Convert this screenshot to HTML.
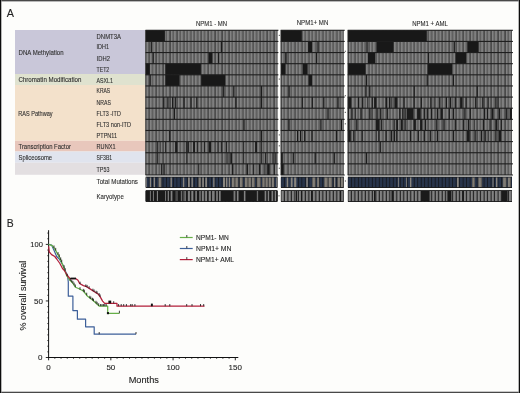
<!DOCTYPE html><html><head><meta charset="utf-8"><title>Figure</title>
<style>html,body{margin:0;padding:0;background:#fdfdfb;width:520px;height:393px;overflow:hidden;}svg{display:block;will-change:transform;}text{font-family:"Liberation Sans", sans-serif;stroke:currentColor;stroke-width:0.1px;paint-order:stroke;}</style></head><body>
<svg width="520" height="393" viewBox="0 0 520 393">
<defs><linearGradient id="cg" x1="0" x2="1" y1="0" y2="0"><stop offset="0" stop-color="#282828"/><stop offset="0.1" stop-color="#383838"/><stop offset="0.28" stop-color="#808080"/><stop offset="0.5" stop-color="#848484"/><stop offset="0.75" stop-color="#6a6a6a"/><stop offset="0.92" stop-color="#4a4a4a"/><stop offset="1" stop-color="#2c2c2c"/></linearGradient><linearGradient id="ng" x1="0" x2="1" y1="0" y2="0"><stop offset="0" stop-color="#161b25"/><stop offset="0.25" stop-color="#28344a"/><stop offset="0.7" stop-color="#29354b"/><stop offset="1" stop-color="#181e29"/></linearGradient><linearGradient id="tg" x1="0" x2="1" y1="0" y2="0"><stop offset="0" stop-color="#3c3b39"/><stop offset="0.3" stop-color="#85817a"/><stop offset="0.7" stop-color="#7a7670"/><stop offset="1" stop-color="#3c3b39"/></linearGradient></defs>
<rect x="0" y="0" width="520" height="393" fill="#fdfdfb"/>
<rect x="15" y="30.00" width="130.6" height="44.00" fill="#c9c7d9"/>
<rect x="15" y="74.00" width="130.6" height="11.00" fill="#dfe2cf"/>
<rect x="15" y="85.00" width="130.6" height="55.80" fill="#f3e1cb"/>
<rect x="15" y="140.80" width="130.6" height="10.70" fill="#e8c7bc"/>
<rect x="15" y="151.50" width="130.6" height="11.30" fill="#e0e4ee"/>
<rect x="15" y="162.80" width="130.6" height="12.00" fill="#e3dfe1"/>
<text x="18.60" y="54.80" font-size="6.50" fill="#2e2e2e" color="#2e2e2e" textLength="45.00" lengthAdjust="spacingAndGlyphs">DNA Methylation</text>
<text x="18.40" y="82.10" font-size="6.50" fill="#2e2e2e" color="#2e2e2e" textLength="63.00" lengthAdjust="spacingAndGlyphs">Chromatin Modification</text>
<text x="18.30" y="115.70" font-size="6.50" fill="#2e2e2e" color="#2e2e2e" textLength="34.20" lengthAdjust="spacingAndGlyphs">RAS Pathway</text>
<text x="18.50" y="149.00" font-size="6.50" fill="#2e2e2e" color="#2e2e2e" textLength="52.40" lengthAdjust="spacingAndGlyphs">Transcription Factor</text>
<text x="18.50" y="160.20" font-size="6.50" fill="#2e2e2e" color="#2e2e2e" textLength="33.60" lengthAdjust="spacingAndGlyphs">Spliceosome</text>
<text x="96.60" y="38.60" font-size="6.50" fill="#2e2e2e" color="#2e2e2e" textLength="24.30" lengthAdjust="spacingAndGlyphs">DNMT3A</text>
<text x="96.60" y="49.20" font-size="6.50" fill="#2e2e2e" color="#2e2e2e" textLength="12.30" lengthAdjust="spacingAndGlyphs">IDH1</text>
<text x="96.60" y="60.70" font-size="6.50" fill="#2e2e2e" color="#2e2e2e" textLength="13.30" lengthAdjust="spacingAndGlyphs">IDH2</text>
<text x="96.60" y="71.90" font-size="6.50" fill="#2e2e2e" color="#2e2e2e" textLength="12.60" lengthAdjust="spacingAndGlyphs">TET2</text>
<text x="96.60" y="82.80" font-size="6.50" fill="#2e2e2e" color="#2e2e2e" textLength="16.30" lengthAdjust="spacingAndGlyphs">ASXL1</text>
<text x="96.60" y="93.30" font-size="6.50" fill="#2e2e2e" color="#2e2e2e" textLength="13.60" lengthAdjust="spacingAndGlyphs">KRAS</text>
<text x="96.60" y="104.50" font-size="6.50" fill="#2e2e2e" color="#2e2e2e" textLength="14.30" lengthAdjust="spacingAndGlyphs">NRAS</text>
<text x="96.60" y="115.50" font-size="6.50" fill="#2e2e2e" color="#2e2e2e" textLength="24.20" lengthAdjust="spacingAndGlyphs">FLT3 -ITD</text>
<text x="96.60" y="126.90" font-size="6.50" fill="#2e2e2e" color="#2e2e2e" textLength="34.40" lengthAdjust="spacingAndGlyphs">FLT3 non-ITD</text>
<text x="96.60" y="138.00" font-size="6.50" fill="#2e2e2e" color="#2e2e2e" textLength="20.40" lengthAdjust="spacingAndGlyphs">PTPN11</text>
<text x="96.60" y="148.90" font-size="6.50" fill="#2e2e2e" color="#2e2e2e" textLength="18.90" lengthAdjust="spacingAndGlyphs">RUNX1</text>
<text x="96.60" y="160.00" font-size="6.50" fill="#2e2e2e" color="#2e2e2e" textLength="15.60" lengthAdjust="spacingAndGlyphs">SF3B1</text>
<text x="96.60" y="171.70" font-size="6.50" fill="#2e2e2e" color="#2e2e2e" textLength="12.80" lengthAdjust="spacingAndGlyphs">TP53</text>
<text x="96.60" y="184.40" font-size="6.50" fill="#2e2e2e" color="#2e2e2e" textLength="41.30" lengthAdjust="spacingAndGlyphs">Total Mutations</text>
<text x="96.60" y="198.70" font-size="6.50" fill="#2e2e2e" color="#2e2e2e" textLength="27.20" lengthAdjust="spacingAndGlyphs">Karyotype</text>
<text x="195.90" y="25.50" font-size="6.30" fill="#2e2e2e" color="#2e2e2e" textLength="31.20" lengthAdjust="spacingAndGlyphs">NPM1 - MN</text>
<text x="296.70" y="25.40" font-size="6.30" fill="#2e2e2e" color="#2e2e2e" textLength="31.60" lengthAdjust="spacingAndGlyphs">NPM1+ MN</text>
<text x="412.20" y="25.80" font-size="6.30" fill="#2e2e2e" color="#2e2e2e" textLength="35.70" lengthAdjust="spacingAndGlyphs">NPM1 + AML</text>
<text x="6.80" y="16.80" font-size="10.80" fill="#222" color="#222">A</text>
<text x="6.80" y="227.00" font-size="10.40" fill="#222" color="#222">B</text>
<rect x="145.70" y="30.30" width="3.47" height="144.69" fill="url(#cg)"/>
<rect x="149.17" y="30.30" width="3.47" height="144.69" fill="url(#cg)"/>
<rect x="152.64" y="30.30" width="3.47" height="144.69" fill="url(#cg)"/>
<rect x="156.11" y="30.30" width="3.47" height="144.69" fill="url(#cg)"/>
<rect x="159.57" y="30.30" width="3.47" height="144.69" fill="url(#cg)"/>
<rect x="163.04" y="30.30" width="3.47" height="144.69" fill="url(#cg)"/>
<rect x="166.51" y="30.30" width="3.47" height="144.69" fill="url(#cg)"/>
<rect x="169.98" y="30.30" width="3.47" height="144.69" fill="url(#cg)"/>
<rect x="173.45" y="30.30" width="3.47" height="144.69" fill="url(#cg)"/>
<rect x="176.92" y="30.30" width="3.47" height="144.69" fill="url(#cg)"/>
<rect x="180.38" y="30.30" width="3.47" height="144.69" fill="url(#cg)"/>
<rect x="183.85" y="30.30" width="3.47" height="144.69" fill="url(#cg)"/>
<rect x="187.32" y="30.30" width="3.47" height="144.69" fill="url(#cg)"/>
<rect x="190.79" y="30.30" width="3.47" height="144.69" fill="url(#cg)"/>
<rect x="194.26" y="30.30" width="3.47" height="144.69" fill="url(#cg)"/>
<rect x="197.73" y="30.30" width="3.47" height="144.69" fill="url(#cg)"/>
<rect x="201.19" y="30.30" width="3.47" height="144.69" fill="url(#cg)"/>
<rect x="204.66" y="30.30" width="3.47" height="144.69" fill="url(#cg)"/>
<rect x="208.13" y="30.30" width="3.47" height="144.69" fill="url(#cg)"/>
<rect x="211.60" y="30.30" width="3.47" height="144.69" fill="url(#cg)"/>
<rect x="215.07" y="30.30" width="3.47" height="144.69" fill="url(#cg)"/>
<rect x="218.54" y="30.30" width="3.47" height="144.69" fill="url(#cg)"/>
<rect x="222.01" y="30.30" width="3.47" height="144.69" fill="url(#cg)"/>
<rect x="225.47" y="30.30" width="3.47" height="144.69" fill="url(#cg)"/>
<rect x="228.94" y="30.30" width="3.47" height="144.69" fill="url(#cg)"/>
<rect x="232.41" y="30.30" width="3.47" height="144.69" fill="url(#cg)"/>
<rect x="235.88" y="30.30" width="3.47" height="144.69" fill="url(#cg)"/>
<rect x="239.35" y="30.30" width="3.47" height="144.69" fill="url(#cg)"/>
<rect x="242.82" y="30.30" width="3.47" height="144.69" fill="url(#cg)"/>
<rect x="246.28" y="30.30" width="3.47" height="144.69" fill="url(#cg)"/>
<rect x="249.75" y="30.30" width="3.47" height="144.69" fill="url(#cg)"/>
<rect x="253.22" y="30.30" width="3.47" height="144.69" fill="url(#cg)"/>
<rect x="256.69" y="30.30" width="3.47" height="144.69" fill="url(#cg)"/>
<rect x="260.16" y="30.30" width="3.47" height="144.69" fill="url(#cg)"/>
<rect x="263.63" y="30.30" width="3.47" height="144.69" fill="url(#cg)"/>
<rect x="267.09" y="30.30" width="3.47" height="144.69" fill="url(#cg)"/>
<rect x="270.56" y="30.30" width="3.47" height="144.69" fill="url(#cg)"/>
<rect x="274.03" y="30.30" width="3.47" height="144.69" fill="url(#cg)"/>
<rect x="280.90" y="30.30" width="3.49" height="144.69" fill="url(#cg)"/>
<rect x="284.39" y="30.30" width="3.49" height="144.69" fill="url(#cg)"/>
<rect x="287.89" y="30.30" width="3.49" height="144.69" fill="url(#cg)"/>
<rect x="291.38" y="30.30" width="3.49" height="144.69" fill="url(#cg)"/>
<rect x="294.88" y="30.30" width="3.49" height="144.69" fill="url(#cg)"/>
<rect x="298.37" y="30.30" width="3.49" height="144.69" fill="url(#cg)"/>
<rect x="301.87" y="30.30" width="3.49" height="144.69" fill="url(#cg)"/>
<rect x="305.36" y="30.30" width="3.49" height="144.69" fill="url(#cg)"/>
<rect x="308.86" y="30.30" width="3.49" height="144.69" fill="url(#cg)"/>
<rect x="312.35" y="30.30" width="3.49" height="144.69" fill="url(#cg)"/>
<rect x="315.84" y="30.30" width="3.49" height="144.69" fill="url(#cg)"/>
<rect x="319.34" y="30.30" width="3.49" height="144.69" fill="url(#cg)"/>
<rect x="322.83" y="30.30" width="3.49" height="144.69" fill="url(#cg)"/>
<rect x="326.33" y="30.30" width="3.49" height="144.69" fill="url(#cg)"/>
<rect x="329.82" y="30.30" width="3.49" height="144.69" fill="url(#cg)"/>
<rect x="333.32" y="30.30" width="3.49" height="144.69" fill="url(#cg)"/>
<rect x="336.81" y="30.30" width="3.49" height="144.69" fill="url(#cg)"/>
<rect x="340.31" y="30.30" width="3.49" height="144.69" fill="url(#cg)"/>
<rect x="347.90" y="30.30" width="3.49" height="144.69" fill="url(#cg)"/>
<rect x="351.39" y="30.30" width="3.49" height="144.69" fill="url(#cg)"/>
<rect x="354.88" y="30.30" width="3.49" height="144.69" fill="url(#cg)"/>
<rect x="358.37" y="30.30" width="3.49" height="144.69" fill="url(#cg)"/>
<rect x="361.87" y="30.30" width="3.49" height="144.69" fill="url(#cg)"/>
<rect x="365.36" y="30.30" width="3.49" height="144.69" fill="url(#cg)"/>
<rect x="368.85" y="30.30" width="3.49" height="144.69" fill="url(#cg)"/>
<rect x="372.34" y="30.30" width="3.49" height="144.69" fill="url(#cg)"/>
<rect x="375.83" y="30.30" width="3.49" height="144.69" fill="url(#cg)"/>
<rect x="379.32" y="30.30" width="3.49" height="144.69" fill="url(#cg)"/>
<rect x="382.81" y="30.30" width="3.49" height="144.69" fill="url(#cg)"/>
<rect x="386.31" y="30.30" width="3.49" height="144.69" fill="url(#cg)"/>
<rect x="389.80" y="30.30" width="3.49" height="144.69" fill="url(#cg)"/>
<rect x="393.29" y="30.30" width="3.49" height="144.69" fill="url(#cg)"/>
<rect x="396.78" y="30.30" width="3.49" height="144.69" fill="url(#cg)"/>
<rect x="400.27" y="30.30" width="3.49" height="144.69" fill="url(#cg)"/>
<rect x="403.76" y="30.30" width="3.49" height="144.69" fill="url(#cg)"/>
<rect x="407.26" y="30.30" width="3.49" height="144.69" fill="url(#cg)"/>
<rect x="410.75" y="30.30" width="3.49" height="144.69" fill="url(#cg)"/>
<rect x="414.24" y="30.30" width="3.49" height="144.69" fill="url(#cg)"/>
<rect x="417.73" y="30.30" width="3.49" height="144.69" fill="url(#cg)"/>
<rect x="421.22" y="30.30" width="3.49" height="144.69" fill="url(#cg)"/>
<rect x="424.71" y="30.30" width="3.49" height="144.69" fill="url(#cg)"/>
<rect x="428.20" y="30.30" width="3.49" height="144.69" fill="url(#cg)"/>
<rect x="431.70" y="30.30" width="3.49" height="144.69" fill="url(#cg)"/>
<rect x="435.19" y="30.30" width="3.49" height="144.69" fill="url(#cg)"/>
<rect x="438.68" y="30.30" width="3.49" height="144.69" fill="url(#cg)"/>
<rect x="442.17" y="30.30" width="3.49" height="144.69" fill="url(#cg)"/>
<rect x="445.66" y="30.30" width="3.49" height="144.69" fill="url(#cg)"/>
<rect x="449.15" y="30.30" width="3.49" height="144.69" fill="url(#cg)"/>
<rect x="452.64" y="30.30" width="3.49" height="144.69" fill="url(#cg)"/>
<rect x="456.14" y="30.30" width="3.49" height="144.69" fill="url(#cg)"/>
<rect x="459.63" y="30.30" width="3.49" height="144.69" fill="url(#cg)"/>
<rect x="463.12" y="30.30" width="3.49" height="144.69" fill="url(#cg)"/>
<rect x="466.61" y="30.30" width="3.49" height="144.69" fill="url(#cg)"/>
<rect x="470.10" y="30.30" width="3.49" height="144.69" fill="url(#cg)"/>
<rect x="473.59" y="30.30" width="3.49" height="144.69" fill="url(#cg)"/>
<rect x="477.09" y="30.30" width="3.49" height="144.69" fill="url(#cg)"/>
<rect x="480.58" y="30.30" width="3.49" height="144.69" fill="url(#cg)"/>
<rect x="484.07" y="30.30" width="3.49" height="144.69" fill="url(#cg)"/>
<rect x="487.56" y="30.30" width="3.49" height="144.69" fill="url(#cg)"/>
<rect x="491.05" y="30.30" width="3.49" height="144.69" fill="url(#cg)"/>
<rect x="494.54" y="30.30" width="3.49" height="144.69" fill="url(#cg)"/>
<rect x="498.03" y="30.30" width="3.49" height="144.69" fill="url(#cg)"/>
<rect x="501.53" y="30.30" width="3.49" height="144.69" fill="url(#cg)"/>
<rect x="505.02" y="30.30" width="3.49" height="144.69" fill="url(#cg)"/>
<rect x="508.51" y="30.30" width="3.49" height="144.69" fill="url(#cg)"/>
<rect x="145.70" y="30.30" width="19.20" height="11.13" fill="#181818"/>
<rect x="145.70" y="63.69" width="4.10" height="11.13" fill="#181818"/>
<rect x="165.30" y="63.69" width="35.60" height="11.13" fill="#181818"/>
<rect x="165.30" y="74.82" width="14.30" height="11.13" fill="#181818"/>
<rect x="201.20" y="74.82" width="24.10" height="11.13" fill="#181818"/>
<rect x="208.50" y="52.56" width="4.00" height="11.13" fill="#181818"/>
<rect x="280.90" y="30.30" width="20.90" height="11.13" fill="#181818"/>
<rect x="281.00" y="63.69" width="4.60" height="11.13" fill="#181818"/>
<rect x="302.80" y="63.69" width="4.80" height="11.13" fill="#181818"/>
<rect x="308.50" y="74.82" width="3.50" height="11.13" fill="#181818"/>
<rect x="308.10" y="41.43" width="3.90" height="11.13" fill="#181818"/>
<rect x="285.20" y="52.56" width="1.40" height="11.13" fill="#181818"/>
<rect x="301.80" y="97.08" width="1.00" height="11.13" fill="#181818"/>
<rect x="341.00" y="119.34" width="1.00" height="11.13" fill="#181818"/>
<rect x="297.00" y="130.47" width="1.00" height="11.13" fill="#181818"/>
<rect x="300.00" y="130.47" width="1.00" height="11.13" fill="#181818"/>
<rect x="281.00" y="152.73" width="1.80" height="11.13" fill="#181818"/>
<rect x="281.00" y="163.86" width="2.70" height="11.13" fill="#181818"/>
<rect x="347.90" y="30.30" width="78.90" height="11.13" fill="#181818"/>
<rect x="376.50" y="41.43" width="17.10" height="11.13" fill="#181818"/>
<rect x="467.30" y="41.43" width="11.40" height="11.13" fill="#181818"/>
<rect x="367.90" y="52.56" width="7.20" height="11.13" fill="#181818"/>
<rect x="455.50" y="52.56" width="10.80" height="11.13" fill="#181818"/>
<rect x="347.90" y="63.69" width="17.70" height="11.13" fill="#181818"/>
<rect x="427.50" y="63.69" width="24.80" height="11.13" fill="#181818"/>
<rect x="347.80" y="97.08" width="3.60" height="11.13" fill="#1c1c1c"/>
<rect x="358.00" y="97.08" width="1.20" height="11.13" fill="#1c1c1c"/>
<rect x="362.10" y="97.08" width="1.20" height="11.13" fill="#1c1c1c"/>
<rect x="367.00" y="97.08" width="0.60" height="11.13" fill="#1c1c1c"/>
<rect x="371.70" y="97.08" width="1.20" height="11.13" fill="#1c1c1c"/>
<rect x="374.10" y="97.08" width="2.40" height="11.13" fill="#1c1c1c"/>
<rect x="385.50" y="97.08" width="1.80" height="11.13" fill="#1c1c1c"/>
<rect x="389.00" y="97.08" width="1.20" height="11.13" fill="#1c1c1c"/>
<rect x="391.40" y="97.08" width="0.60" height="11.13" fill="#1c1c1c"/>
<rect x="394.40" y="97.08" width="3.00" height="11.13" fill="#1c1c1c"/>
<rect x="403.40" y="97.08" width="1.20" height="11.13" fill="#1c1c1c"/>
<rect x="413.50" y="97.08" width="1.20" height="11.13" fill="#1c1c1c"/>
<rect x="420.70" y="97.08" width="1.20" height="11.13" fill="#1c1c1c"/>
<rect x="430.30" y="97.08" width="1.20" height="11.13" fill="#1c1c1c"/>
<rect x="433.80" y="97.08" width="0.60" height="11.13" fill="#1c1c1c"/>
<rect x="439.20" y="97.08" width="1.20" height="11.13" fill="#1c1c1c"/>
<rect x="445.80" y="97.08" width="1.20" height="11.13" fill="#1c1c1c"/>
<rect x="449.90" y="97.08" width="1.20" height="11.13" fill="#1c1c1c"/>
<rect x="454.70" y="97.08" width="1.20" height="11.13" fill="#1c1c1c"/>
<rect x="460.10" y="97.08" width="2.40" height="11.13" fill="#1c1c1c"/>
<rect x="465.50" y="97.08" width="1.20" height="11.13" fill="#1c1c1c"/>
<rect x="475.10" y="97.08" width="1.20" height="11.13" fill="#1c1c1c"/>
<rect x="482.20" y="97.08" width="1.20" height="11.13" fill="#1c1c1c"/>
<rect x="487.60" y="97.08" width="1.10" height="11.13" fill="#1c1c1c"/>
<rect x="495.30" y="97.08" width="1.20" height="11.13" fill="#1c1c1c"/>
<rect x="497.70" y="97.08" width="0.60" height="11.13" fill="#1c1c1c"/>
<rect x="347.80" y="108.21" width="1.20" height="11.13" fill="#1c1c1c"/>
<rect x="351.40" y="108.21" width="1.20" height="11.13" fill="#1c1c1c"/>
<rect x="355.00" y="108.21" width="0.60" height="11.13" fill="#1c1c1c"/>
<rect x="360.40" y="108.21" width="1.20" height="11.13" fill="#1c1c1c"/>
<rect x="369.30" y="108.21" width="1.20" height="11.13" fill="#1c1c1c"/>
<rect x="371.70" y="108.21" width="0.60" height="11.13" fill="#1c1c1c"/>
<rect x="376.50" y="108.21" width="1.20" height="11.13" fill="#1c1c1c"/>
<rect x="380.10" y="108.21" width="1.20" height="11.13" fill="#1c1c1c"/>
<rect x="386.70" y="108.21" width="1.20" height="11.13" fill="#1c1c1c"/>
<rect x="399.20" y="108.21" width="1.20" height="11.13" fill="#1c1c1c"/>
<rect x="402.20" y="108.21" width="1.20" height="11.13" fill="#1c1c1c"/>
<rect x="404.60" y="108.21" width="1.10" height="11.13" fill="#1c1c1c"/>
<rect x="406.90" y="108.21" width="6.60" height="11.13" fill="#1c1c1c"/>
<rect x="417.10" y="108.21" width="3.60" height="11.13" fill="#1c1c1c"/>
<rect x="423.70" y="108.21" width="1.20" height="11.13" fill="#1c1c1c"/>
<rect x="426.70" y="108.21" width="1.20" height="11.13" fill="#1c1c1c"/>
<rect x="430.90" y="108.21" width="1.20" height="11.13" fill="#1c1c1c"/>
<rect x="436.80" y="108.21" width="1.20" height="11.13" fill="#1c1c1c"/>
<rect x="440.40" y="108.21" width="2.40" height="11.13" fill="#1c1c1c"/>
<rect x="448.70" y="108.21" width="1.20" height="11.13" fill="#1c1c1c"/>
<rect x="452.90" y="108.21" width="1.20" height="11.13" fill="#1c1c1c"/>
<rect x="464.30" y="108.21" width="1.20" height="11.13" fill="#1c1c1c"/>
<rect x="469.70" y="108.21" width="1.20" height="11.13" fill="#1c1c1c"/>
<rect x="484.00" y="108.21" width="1.20" height="11.13" fill="#1c1c1c"/>
<rect x="487.00" y="108.21" width="1.10" height="11.13" fill="#1c1c1c"/>
<rect x="491.70" y="108.21" width="1.80" height="11.13" fill="#1c1c1c"/>
<rect x="498.90" y="108.21" width="1.20" height="11.13" fill="#1c1c1c"/>
<rect x="506.10" y="108.21" width="1.20" height="11.13" fill="#1c1c1c"/>
<rect x="509.70" y="108.21" width="2.30" height="11.13" fill="#1c1c1c"/>
<rect x="347.80" y="119.34" width="1.80" height="11.13" fill="#1c1c1c"/>
<rect x="356.20" y="119.34" width="1.20" height="11.13" fill="#1c1c1c"/>
<rect x="375.90" y="119.34" width="3.60" height="11.13" fill="#1c1c1c"/>
<rect x="380.70" y="119.34" width="1.20" height="11.13" fill="#1c1c1c"/>
<rect x="393.80" y="119.34" width="0.90" height="11.13" fill="#1c1c1c"/>
<rect x="396.20" y="119.34" width="1.80" height="11.13" fill="#1c1c1c"/>
<rect x="401.00" y="119.34" width="1.80" height="11.13" fill="#1c1c1c"/>
<rect x="404.60" y="119.34" width="1.10" height="11.13" fill="#1c1c1c"/>
<rect x="413.50" y="119.34" width="2.40" height="11.13" fill="#1c1c1c"/>
<rect x="420.10" y="119.34" width="2.40" height="11.13" fill="#1c1c1c"/>
<rect x="424.90" y="119.34" width="1.20" height="11.13" fill="#1c1c1c"/>
<rect x="436.20" y="119.34" width="1.20" height="11.13" fill="#1c1c1c"/>
<rect x="443.40" y="119.34" width="1.20" height="11.13" fill="#1c1c1c"/>
<rect x="454.70" y="119.34" width="1.20" height="11.13" fill="#1c1c1c"/>
<rect x="463.10" y="119.34" width="1.20" height="11.13" fill="#1c1c1c"/>
<rect x="467.90" y="119.34" width="1.20" height="11.13" fill="#1c1c1c"/>
<rect x="474.40" y="119.34" width="0.60" height="11.13" fill="#1c1c1c"/>
<rect x="482.80" y="119.34" width="1.20" height="11.13" fill="#1c1c1c"/>
<rect x="489.50" y="119.34" width="1.00" height="11.13" fill="#1c1c1c"/>
<rect x="495.30" y="119.34" width="1.80" height="11.13" fill="#1c1c1c"/>
<rect x="500.70" y="119.34" width="1.20" height="11.13" fill="#1c1c1c"/>
<rect x="347.80" y="130.47" width="3.00" height="11.13" fill="#1c1c1c"/>
<rect x="353.20" y="130.47" width="1.20" height="11.13" fill="#1c1c1c"/>
<rect x="361.60" y="130.47" width="1.10" height="11.13" fill="#1c1c1c"/>
<rect x="375.90" y="130.47" width="0.60" height="11.13" fill="#1c1c1c"/>
<rect x="378.30" y="130.47" width="1.20" height="11.13" fill="#1c1c1c"/>
<rect x="385.50" y="130.47" width="1.20" height="11.13" fill="#1c1c1c"/>
<rect x="390.80" y="130.47" width="1.20" height="11.13" fill="#1c1c1c"/>
<rect x="393.80" y="130.47" width="1.20" height="11.13" fill="#1c1c1c"/>
<rect x="396.20" y="130.47" width="1.20" height="11.13" fill="#1c1c1c"/>
<rect x="409.90" y="130.47" width="1.20" height="11.13" fill="#1c1c1c"/>
<rect x="417.70" y="130.47" width="1.20" height="11.13" fill="#1c1c1c"/>
<rect x="423.70" y="130.47" width="1.20" height="11.13" fill="#1c1c1c"/>
<rect x="429.70" y="130.47" width="1.20" height="11.13" fill="#1c1c1c"/>
<rect x="436.80" y="130.47" width="1.20" height="11.13" fill="#1c1c1c"/>
<rect x="452.90" y="130.47" width="1.20" height="11.13" fill="#1c1c1c"/>
<rect x="466.70" y="130.47" width="3.00" height="11.13" fill="#1c1c1c"/>
<rect x="474.50" y="130.47" width="1.20" height="11.13" fill="#1c1c1c"/>
<rect x="481.00" y="130.47" width="1.20" height="11.13" fill="#1c1c1c"/>
<rect x="484.60" y="130.47" width="1.20" height="11.13" fill="#1c1c1c"/>
<rect x="488.10" y="130.47" width="0.60" height="11.13" fill="#1c1c1c"/>
<rect x="495.30" y="130.47" width="1.20" height="11.13" fill="#1c1c1c"/>
<rect x="498.90" y="130.47" width="2.40" height="11.13" fill="#1c1c1c"/>
<rect x="157.20" y="141.60" width="0.90" height="11.13" fill="#1c1c1c"/>
<rect x="160.50" y="141.60" width="0.50" height="11.13" fill="#1c1c1c"/>
<rect x="165.20" y="141.60" width="0.90" height="11.13" fill="#1c1c1c"/>
<rect x="175.10" y="141.60" width="2.30" height="11.13" fill="#1c1c1c"/>
<rect x="185.90" y="141.60" width="0.90" height="11.13" fill="#1c1c1c"/>
<rect x="187.30" y="141.60" width="1.60" height="11.13" fill="#1c1c1c"/>
<rect x="193.10" y="141.60" width="1.90" height="11.13" fill="#1c1c1c"/>
<rect x="196.90" y="141.60" width="0.90" height="11.13" fill="#1c1c1c"/>
<rect x="201.60" y="141.60" width="0.50" height="11.13" fill="#1c1c1c"/>
<rect x="204.00" y="141.60" width="0.90" height="11.13" fill="#1c1c1c"/>
<rect x="208.70" y="141.60" width="2.30" height="11.13" fill="#1c1c1c"/>
<rect x="217.60" y="141.60" width="0.90" height="11.13" fill="#1c1c1c"/>
<rect x="220.90" y="141.60" width="0.90" height="11.13" fill="#1c1c1c"/>
<rect x="226.10" y="141.60" width="0.90" height="11.13" fill="#1c1c1c"/>
<rect x="243.30" y="141.60" width="0.80" height="11.13" fill="#1c1c1c"/>
<rect x="255.10" y="141.60" width="1.90" height="11.13" fill="#1c1c1c"/>
<rect x="261.20" y="141.60" width="0.80" height="11.13" fill="#1c1c1c"/>
<rect x="157.20" y="152.73" width="0.90" height="11.13" fill="#1c1c1c"/>
<rect x="186.40" y="152.73" width="0.90" height="11.13" fill="#1c1c1c"/>
<rect x="226.50" y="152.73" width="1.00" height="11.13" fill="#1c1c1c"/>
<rect x="230.30" y="152.73" width="1.70" height="11.13" fill="#1c1c1c"/>
<rect x="243.30" y="152.73" width="0.80" height="11.13" fill="#1c1c1c"/>
<rect x="261.20" y="152.73" width="0.90" height="11.13" fill="#1c1c1c"/>
<rect x="265.00" y="152.73" width="0.90" height="11.13" fill="#1c1c1c"/>
<rect x="272.50" y="152.73" width="0.90" height="11.13" fill="#1c1c1c"/>
<rect x="275.30" y="152.73" width="1.00" height="11.13" fill="#1c1c1c"/>
<rect x="161.00" y="163.86" width="0.90" height="11.13" fill="#1c1c1c"/>
<rect x="163.80" y="163.86" width="0.90" height="11.13" fill="#1c1c1c"/>
<rect x="198.30" y="163.86" width="0.90" height="11.13" fill="#1c1c1c"/>
<rect x="232.00" y="163.86" width="1.40" height="11.13" fill="#1c1c1c"/>
<rect x="246.60" y="163.86" width="1.40" height="11.13" fill="#1c1c1c"/>
<rect x="253.20" y="163.86" width="0.90" height="11.13" fill="#1c1c1c"/>
<rect x="258.80" y="163.86" width="1.40" height="11.13" fill="#1c1c1c"/>
<rect x="264.50" y="163.86" width="0.90" height="11.13" fill="#1c1c1c"/>
<rect x="267.30" y="163.86" width="2.40" height="11.13" fill="#1c1c1c"/>
<rect x="273.90" y="163.86" width="0.90" height="11.13" fill="#1c1c1c"/>
<rect x="150.70" y="41.43" width="1.20" height="11.13" fill="#1c1c1c"/>
<rect x="220.80" y="41.43" width="1.20" height="11.13" fill="#1c1c1c"/>
<rect x="317.40" y="41.43" width="1.20" height="11.13" fill="#1c1c1c"/>
<rect x="366.40" y="41.43" width="1.20" height="11.13" fill="#1c1c1c"/>
<rect x="453.70" y="41.43" width="1.20" height="11.13" fill="#1c1c1c"/>
<rect x="152.60" y="52.56" width="1.20" height="11.13" fill="#1c1c1c"/>
<rect x="218.00" y="52.56" width="1.20" height="11.13" fill="#1c1c1c"/>
<rect x="316.00" y="52.56" width="1.20" height="11.13" fill="#1c1c1c"/>
<rect x="427.90" y="52.56" width="1.20" height="11.13" fill="#1c1c1c"/>
<rect x="149.60" y="74.82" width="1.20" height="11.13" fill="#1c1c1c"/>
<rect x="365.90" y="74.82" width="1.20" height="11.13" fill="#1c1c1c"/>
<rect x="426.60" y="74.82" width="1.20" height="11.13" fill="#1c1c1c"/>
<rect x="452.80" y="74.82" width="1.20" height="11.13" fill="#1c1c1c"/>
<rect x="223.10" y="85.95" width="1.20" height="11.13" fill="#1c1c1c"/>
<rect x="233.20" y="85.95" width="1.20" height="11.13" fill="#1c1c1c"/>
<rect x="260.90" y="85.95" width="1.20" height="11.13" fill="#1c1c1c"/>
<rect x="288.50" y="85.95" width="1.20" height="11.13" fill="#1c1c1c"/>
<rect x="365.40" y="85.95" width="1.20" height="11.13" fill="#1c1c1c"/>
<rect x="369.20" y="85.95" width="1.20" height="11.13" fill="#1c1c1c"/>
<rect x="413.60" y="85.95" width="1.20" height="11.13" fill="#1c1c1c"/>
<rect x="476.60" y="85.95" width="1.20" height="11.13" fill="#1c1c1c"/>
<rect x="163.20" y="97.08" width="1.20" height="11.13" fill="#1c1c1c"/>
<rect x="167.30" y="97.08" width="1.20" height="11.13" fill="#1c1c1c"/>
<rect x="172.00" y="97.08" width="1.20" height="11.13" fill="#1c1c1c"/>
<rect x="174.70" y="97.08" width="1.20" height="11.13" fill="#1c1c1c"/>
<rect x="183.40" y="97.08" width="1.20" height="11.13" fill="#1c1c1c"/>
<rect x="190.40" y="97.08" width="1.20" height="11.13" fill="#1c1c1c"/>
<rect x="196.20" y="97.08" width="1.20" height="11.13" fill="#1c1c1c"/>
<rect x="235.30" y="97.08" width="1.20" height="11.13" fill="#1c1c1c"/>
<rect x="260.90" y="97.08" width="1.20" height="11.13" fill="#1c1c1c"/>
<rect x="311.70" y="97.08" width="1.20" height="11.13" fill="#1c1c1c"/>
<rect x="323.20" y="97.08" width="1.20" height="11.13" fill="#1c1c1c"/>
<rect x="337.40" y="97.08" width="1.20" height="11.13" fill="#1c1c1c"/>
<rect x="173.80" y="108.21" width="1.20" height="11.13" fill="#1c1c1c"/>
<rect x="327.40" y="108.21" width="1.20" height="11.13" fill="#1c1c1c"/>
<rect x="243.40" y="119.34" width="1.20" height="11.13" fill="#1c1c1c"/>
<rect x="288.40" y="119.34" width="1.20" height="11.13" fill="#1c1c1c"/>
<rect x="320.30" y="119.34" width="1.20" height="11.13" fill="#1c1c1c"/>
<rect x="169.10" y="130.47" width="1.20" height="11.13" fill="#1c1c1c"/>
<rect x="260.90" y="130.47" width="1.20" height="11.13" fill="#1c1c1c"/>
<rect x="304.10" y="130.47" width="1.20" height="11.13" fill="#1c1c1c"/>
<rect x="311.40" y="130.47" width="1.20" height="11.13" fill="#1c1c1c"/>
<rect x="335.90" y="130.47" width="1.20" height="11.13" fill="#1c1c1c"/>
<rect x="379.70" y="141.60" width="1.20" height="11.13" fill="#1c1c1c"/>
<rect x="292.70" y="152.73" width="1.20" height="11.13" fill="#1c1c1c"/>
<rect x="314.60" y="152.73" width="1.20" height="11.13" fill="#1c1c1c"/>
<rect x="333.70" y="152.73" width="1.20" height="11.13" fill="#1c1c1c"/>
<rect x="365.90" y="152.73" width="1.20" height="11.13" fill="#1c1c1c"/>
<rect x="145.50" y="29.75" width="132.90" height="1.10" fill="#1e1e1e"/>
<rect x="145.50" y="40.88" width="132.90" height="1.10" fill="#1e1e1e"/>
<rect x="145.50" y="52.01" width="132.90" height="1.10" fill="#1e1e1e"/>
<rect x="145.50" y="63.14" width="132.90" height="1.10" fill="#1e1e1e"/>
<rect x="145.50" y="74.27" width="132.90" height="1.10" fill="#1e1e1e"/>
<rect x="145.50" y="85.40" width="132.90" height="1.10" fill="#1e1e1e"/>
<rect x="145.50" y="96.53" width="132.90" height="1.10" fill="#1e1e1e"/>
<rect x="145.50" y="107.66" width="132.90" height="1.10" fill="#1e1e1e"/>
<rect x="145.50" y="118.79" width="132.90" height="1.10" fill="#1e1e1e"/>
<rect x="145.50" y="129.92" width="132.90" height="1.10" fill="#1e1e1e"/>
<rect x="145.50" y="141.05" width="132.90" height="1.10" fill="#1e1e1e"/>
<rect x="145.50" y="152.18" width="132.90" height="1.10" fill="#1e1e1e"/>
<rect x="145.50" y="163.31" width="132.90" height="1.10" fill="#1e1e1e"/>
<rect x="145.50" y="174.44" width="132.90" height="1.10" fill="#1e1e1e"/>
<rect x="145.40" y="30.30" width="0.70" height="144.69" fill="#2a2a2a"/>
<rect x="280.70" y="29.75" width="64.00" height="1.10" fill="#1e1e1e"/>
<rect x="280.70" y="40.88" width="64.00" height="1.10" fill="#1e1e1e"/>
<rect x="280.70" y="52.01" width="64.00" height="1.10" fill="#1e1e1e"/>
<rect x="280.70" y="63.14" width="64.00" height="1.10" fill="#1e1e1e"/>
<rect x="280.70" y="74.27" width="64.00" height="1.10" fill="#1e1e1e"/>
<rect x="280.70" y="85.40" width="64.00" height="1.10" fill="#1e1e1e"/>
<rect x="280.70" y="96.53" width="64.00" height="1.10" fill="#1e1e1e"/>
<rect x="280.70" y="107.66" width="64.00" height="1.10" fill="#1e1e1e"/>
<rect x="280.70" y="118.79" width="64.00" height="1.10" fill="#1e1e1e"/>
<rect x="280.70" y="129.92" width="64.00" height="1.10" fill="#1e1e1e"/>
<rect x="280.70" y="141.05" width="64.00" height="1.10" fill="#1e1e1e"/>
<rect x="280.70" y="152.18" width="64.00" height="1.10" fill="#1e1e1e"/>
<rect x="280.70" y="163.31" width="64.00" height="1.10" fill="#1e1e1e"/>
<rect x="280.70" y="174.44" width="64.00" height="1.10" fill="#1e1e1e"/>
<rect x="280.60" y="30.30" width="0.70" height="144.69" fill="#2a2a2a"/>
<rect x="347.70" y="29.75" width="165.20" height="1.10" fill="#1e1e1e"/>
<rect x="347.70" y="40.88" width="165.20" height="1.10" fill="#1e1e1e"/>
<rect x="347.70" y="52.01" width="165.20" height="1.10" fill="#1e1e1e"/>
<rect x="347.70" y="63.14" width="165.20" height="1.10" fill="#1e1e1e"/>
<rect x="347.70" y="74.27" width="165.20" height="1.10" fill="#1e1e1e"/>
<rect x="347.70" y="85.40" width="165.20" height="1.10" fill="#1e1e1e"/>
<rect x="347.70" y="96.53" width="165.20" height="1.10" fill="#1e1e1e"/>
<rect x="347.70" y="107.66" width="165.20" height="1.10" fill="#1e1e1e"/>
<rect x="347.70" y="118.79" width="165.20" height="1.10" fill="#1e1e1e"/>
<rect x="347.70" y="129.92" width="165.20" height="1.10" fill="#1e1e1e"/>
<rect x="347.70" y="141.05" width="165.20" height="1.10" fill="#1e1e1e"/>
<rect x="347.70" y="152.18" width="165.20" height="1.10" fill="#1e1e1e"/>
<rect x="347.70" y="163.31" width="165.20" height="1.10" fill="#1e1e1e"/>
<rect x="347.70" y="174.44" width="165.20" height="1.10" fill="#1e1e1e"/>
<rect x="347.60" y="30.30" width="0.70" height="144.69" fill="#2a2a2a"/>
<rect x="145.70" y="176.60" width="131.80" height="11.40" fill="#1a1a1a"/>
<rect x="145.70" y="177.50" width="3.47" height="9.60" fill="url(#ng)"/>
<rect x="149.17" y="177.50" width="3.47" height="9.60" fill="url(#ng)"/>
<rect x="152.64" y="177.50" width="3.47" height="9.60" fill="url(#ng)"/>
<rect x="156.11" y="177.50" width="3.47" height="9.60" fill="url(#ng)"/>
<rect x="159.57" y="177.50" width="3.47" height="9.60" fill="url(#ng)"/>
<rect x="163.04" y="177.50" width="3.47" height="9.60" fill="url(#ng)"/>
<rect x="166.51" y="177.50" width="3.47" height="9.60" fill="url(#ng)"/>
<rect x="169.98" y="177.50" width="3.47" height="9.60" fill="url(#ng)"/>
<rect x="173.45" y="177.50" width="3.47" height="9.60" fill="url(#ng)"/>
<rect x="176.92" y="177.50" width="3.47" height="9.60" fill="url(#ng)"/>
<rect x="180.38" y="177.50" width="3.47" height="9.60" fill="url(#ng)"/>
<rect x="183.85" y="177.50" width="3.47" height="9.60" fill="url(#ng)"/>
<rect x="187.32" y="177.50" width="3.47" height="9.60" fill="url(#ng)"/>
<rect x="190.79" y="177.50" width="3.47" height="9.60" fill="url(#ng)"/>
<rect x="194.26" y="177.50" width="3.47" height="9.60" fill="url(#ng)"/>
<rect x="197.73" y="177.50" width="3.47" height="9.60" fill="url(#ng)"/>
<rect x="201.19" y="177.50" width="3.47" height="9.60" fill="url(#ng)"/>
<rect x="204.66" y="177.50" width="3.47" height="9.60" fill="url(#ng)"/>
<rect x="208.13" y="177.50" width="3.47" height="9.60" fill="url(#ng)"/>
<rect x="211.60" y="177.50" width="3.47" height="9.60" fill="url(#ng)"/>
<rect x="215.07" y="177.50" width="3.47" height="9.60" fill="url(#ng)"/>
<rect x="218.54" y="177.50" width="3.47" height="9.60" fill="url(#ng)"/>
<rect x="222.01" y="177.50" width="3.47" height="9.60" fill="url(#ng)"/>
<rect x="225.47" y="177.50" width="3.47" height="9.60" fill="url(#ng)"/>
<rect x="228.94" y="177.50" width="3.47" height="9.60" fill="url(#ng)"/>
<rect x="232.41" y="177.50" width="3.47" height="9.60" fill="url(#ng)"/>
<rect x="235.88" y="177.50" width="3.47" height="9.60" fill="url(#ng)"/>
<rect x="239.35" y="177.50" width="3.47" height="9.60" fill="url(#ng)"/>
<rect x="242.82" y="177.50" width="3.47" height="9.60" fill="url(#ng)"/>
<rect x="246.28" y="177.50" width="3.47" height="9.60" fill="url(#ng)"/>
<rect x="249.75" y="177.50" width="3.47" height="9.60" fill="url(#ng)"/>
<rect x="253.22" y="177.50" width="3.47" height="9.60" fill="url(#ng)"/>
<rect x="256.69" y="177.50" width="3.47" height="9.60" fill="url(#ng)"/>
<rect x="260.16" y="177.50" width="3.47" height="9.60" fill="url(#ng)"/>
<rect x="263.63" y="177.50" width="3.47" height="9.60" fill="url(#ng)"/>
<rect x="267.09" y="177.50" width="3.47" height="9.60" fill="url(#ng)"/>
<rect x="270.56" y="177.50" width="3.47" height="9.60" fill="url(#ng)"/>
<rect x="274.03" y="177.50" width="3.47" height="9.60" fill="url(#ng)"/>
<rect x="145.70" y="190.10" width="131.80" height="11.90" fill="#1a1a1a"/>
<rect x="145.70" y="191.00" width="3.47" height="10.10" fill="url(#cg)"/>
<rect x="149.17" y="191.00" width="3.47" height="10.10" fill="url(#cg)"/>
<rect x="152.64" y="191.00" width="3.47" height="10.10" fill="url(#cg)"/>
<rect x="156.11" y="191.00" width="3.47" height="10.10" fill="url(#cg)"/>
<rect x="159.57" y="191.00" width="3.47" height="10.10" fill="url(#cg)"/>
<rect x="163.04" y="191.00" width="3.47" height="10.10" fill="url(#cg)"/>
<rect x="166.51" y="191.00" width="3.47" height="10.10" fill="url(#cg)"/>
<rect x="169.98" y="191.00" width="3.47" height="10.10" fill="url(#cg)"/>
<rect x="173.45" y="191.00" width="3.47" height="10.10" fill="url(#cg)"/>
<rect x="176.92" y="191.00" width="3.47" height="10.10" fill="url(#cg)"/>
<rect x="180.38" y="191.00" width="3.47" height="10.10" fill="url(#cg)"/>
<rect x="183.85" y="191.00" width="3.47" height="10.10" fill="url(#cg)"/>
<rect x="187.32" y="191.00" width="3.47" height="10.10" fill="url(#cg)"/>
<rect x="190.79" y="191.00" width="3.47" height="10.10" fill="url(#cg)"/>
<rect x="194.26" y="191.00" width="3.47" height="10.10" fill="url(#cg)"/>
<rect x="197.73" y="191.00" width="3.47" height="10.10" fill="url(#cg)"/>
<rect x="201.19" y="191.00" width="3.47" height="10.10" fill="url(#cg)"/>
<rect x="204.66" y="191.00" width="3.47" height="10.10" fill="url(#cg)"/>
<rect x="208.13" y="191.00" width="3.47" height="10.10" fill="url(#cg)"/>
<rect x="211.60" y="191.00" width="3.47" height="10.10" fill="url(#cg)"/>
<rect x="215.07" y="191.00" width="3.47" height="10.10" fill="url(#cg)"/>
<rect x="218.54" y="191.00" width="3.47" height="10.10" fill="url(#cg)"/>
<rect x="222.01" y="191.00" width="3.47" height="10.10" fill="url(#cg)"/>
<rect x="225.47" y="191.00" width="3.47" height="10.10" fill="url(#cg)"/>
<rect x="228.94" y="191.00" width="3.47" height="10.10" fill="url(#cg)"/>
<rect x="232.41" y="191.00" width="3.47" height="10.10" fill="url(#cg)"/>
<rect x="235.88" y="191.00" width="3.47" height="10.10" fill="url(#cg)"/>
<rect x="239.35" y="191.00" width="3.47" height="10.10" fill="url(#cg)"/>
<rect x="242.82" y="191.00" width="3.47" height="10.10" fill="url(#cg)"/>
<rect x="246.28" y="191.00" width="3.47" height="10.10" fill="url(#cg)"/>
<rect x="249.75" y="191.00" width="3.47" height="10.10" fill="url(#cg)"/>
<rect x="253.22" y="191.00" width="3.47" height="10.10" fill="url(#cg)"/>
<rect x="256.69" y="191.00" width="3.47" height="10.10" fill="url(#cg)"/>
<rect x="260.16" y="191.00" width="3.47" height="10.10" fill="url(#cg)"/>
<rect x="263.63" y="191.00" width="3.47" height="10.10" fill="url(#cg)"/>
<rect x="267.09" y="191.00" width="3.47" height="10.10" fill="url(#cg)"/>
<rect x="270.56" y="191.00" width="3.47" height="10.10" fill="url(#cg)"/>
<rect x="274.03" y="191.00" width="3.47" height="10.10" fill="url(#cg)"/>
<rect x="280.90" y="176.60" width="62.90" height="11.40" fill="#1a1a1a"/>
<rect x="280.90" y="177.50" width="3.49" height="9.60" fill="url(#ng)"/>
<rect x="284.39" y="177.50" width="3.49" height="9.60" fill="url(#ng)"/>
<rect x="287.89" y="177.50" width="3.49" height="9.60" fill="url(#ng)"/>
<rect x="291.38" y="177.50" width="3.49" height="9.60" fill="url(#ng)"/>
<rect x="294.88" y="177.50" width="3.49" height="9.60" fill="url(#ng)"/>
<rect x="298.37" y="177.50" width="3.49" height="9.60" fill="url(#ng)"/>
<rect x="301.87" y="177.50" width="3.49" height="9.60" fill="url(#ng)"/>
<rect x="305.36" y="177.50" width="3.49" height="9.60" fill="url(#ng)"/>
<rect x="308.86" y="177.50" width="3.49" height="9.60" fill="url(#ng)"/>
<rect x="312.35" y="177.50" width="3.49" height="9.60" fill="url(#ng)"/>
<rect x="315.84" y="177.50" width="3.49" height="9.60" fill="url(#ng)"/>
<rect x="319.34" y="177.50" width="3.49" height="9.60" fill="url(#ng)"/>
<rect x="322.83" y="177.50" width="3.49" height="9.60" fill="url(#ng)"/>
<rect x="326.33" y="177.50" width="3.49" height="9.60" fill="url(#ng)"/>
<rect x="329.82" y="177.50" width="3.49" height="9.60" fill="url(#ng)"/>
<rect x="333.32" y="177.50" width="3.49" height="9.60" fill="url(#ng)"/>
<rect x="336.81" y="177.50" width="3.49" height="9.60" fill="url(#ng)"/>
<rect x="340.31" y="177.50" width="3.49" height="9.60" fill="url(#ng)"/>
<rect x="280.90" y="190.10" width="62.90" height="11.90" fill="#1a1a1a"/>
<rect x="280.90" y="191.00" width="3.49" height="10.10" fill="url(#cg)"/>
<rect x="284.39" y="191.00" width="3.49" height="10.10" fill="url(#cg)"/>
<rect x="287.89" y="191.00" width="3.49" height="10.10" fill="url(#cg)"/>
<rect x="291.38" y="191.00" width="3.49" height="10.10" fill="url(#cg)"/>
<rect x="294.88" y="191.00" width="3.49" height="10.10" fill="url(#cg)"/>
<rect x="298.37" y="191.00" width="3.49" height="10.10" fill="url(#cg)"/>
<rect x="301.87" y="191.00" width="3.49" height="10.10" fill="url(#cg)"/>
<rect x="305.36" y="191.00" width="3.49" height="10.10" fill="url(#cg)"/>
<rect x="308.86" y="191.00" width="3.49" height="10.10" fill="url(#cg)"/>
<rect x="312.35" y="191.00" width="3.49" height="10.10" fill="url(#cg)"/>
<rect x="315.84" y="191.00" width="3.49" height="10.10" fill="url(#cg)"/>
<rect x="319.34" y="191.00" width="3.49" height="10.10" fill="url(#cg)"/>
<rect x="322.83" y="191.00" width="3.49" height="10.10" fill="url(#cg)"/>
<rect x="326.33" y="191.00" width="3.49" height="10.10" fill="url(#cg)"/>
<rect x="329.82" y="191.00" width="3.49" height="10.10" fill="url(#cg)"/>
<rect x="333.32" y="191.00" width="3.49" height="10.10" fill="url(#cg)"/>
<rect x="336.81" y="191.00" width="3.49" height="10.10" fill="url(#cg)"/>
<rect x="340.31" y="191.00" width="3.49" height="10.10" fill="url(#cg)"/>
<rect x="347.90" y="176.60" width="164.10" height="11.40" fill="#1a1a1a"/>
<rect x="347.90" y="177.50" width="3.49" height="9.60" fill="url(#ng)"/>
<rect x="351.39" y="177.50" width="3.49" height="9.60" fill="url(#ng)"/>
<rect x="354.88" y="177.50" width="3.49" height="9.60" fill="url(#ng)"/>
<rect x="358.37" y="177.50" width="3.49" height="9.60" fill="url(#ng)"/>
<rect x="361.87" y="177.50" width="3.49" height="9.60" fill="url(#ng)"/>
<rect x="365.36" y="177.50" width="3.49" height="9.60" fill="url(#ng)"/>
<rect x="368.85" y="177.50" width="3.49" height="9.60" fill="url(#ng)"/>
<rect x="372.34" y="177.50" width="3.49" height="9.60" fill="url(#ng)"/>
<rect x="375.83" y="177.50" width="3.49" height="9.60" fill="url(#ng)"/>
<rect x="379.32" y="177.50" width="3.49" height="9.60" fill="url(#ng)"/>
<rect x="382.81" y="177.50" width="3.49" height="9.60" fill="url(#ng)"/>
<rect x="386.31" y="177.50" width="3.49" height="9.60" fill="url(#ng)"/>
<rect x="389.80" y="177.50" width="3.49" height="9.60" fill="url(#ng)"/>
<rect x="393.29" y="177.50" width="3.49" height="9.60" fill="url(#ng)"/>
<rect x="396.78" y="177.50" width="3.49" height="9.60" fill="url(#ng)"/>
<rect x="400.27" y="177.50" width="3.49" height="9.60" fill="url(#ng)"/>
<rect x="403.76" y="177.50" width="3.49" height="9.60" fill="url(#ng)"/>
<rect x="407.26" y="177.50" width="3.49" height="9.60" fill="url(#ng)"/>
<rect x="410.75" y="177.50" width="3.49" height="9.60" fill="url(#ng)"/>
<rect x="414.24" y="177.50" width="3.49" height="9.60" fill="url(#ng)"/>
<rect x="417.73" y="177.50" width="3.49" height="9.60" fill="url(#ng)"/>
<rect x="421.22" y="177.50" width="3.49" height="9.60" fill="url(#ng)"/>
<rect x="424.71" y="177.50" width="3.49" height="9.60" fill="url(#ng)"/>
<rect x="428.20" y="177.50" width="3.49" height="9.60" fill="url(#ng)"/>
<rect x="431.70" y="177.50" width="3.49" height="9.60" fill="url(#ng)"/>
<rect x="435.19" y="177.50" width="3.49" height="9.60" fill="url(#ng)"/>
<rect x="438.68" y="177.50" width="3.49" height="9.60" fill="url(#ng)"/>
<rect x="442.17" y="177.50" width="3.49" height="9.60" fill="url(#ng)"/>
<rect x="445.66" y="177.50" width="3.49" height="9.60" fill="url(#ng)"/>
<rect x="449.15" y="177.50" width="3.49" height="9.60" fill="url(#ng)"/>
<rect x="452.64" y="177.50" width="3.49" height="9.60" fill="url(#ng)"/>
<rect x="456.14" y="177.50" width="3.49" height="9.60" fill="url(#ng)"/>
<rect x="459.63" y="177.50" width="3.49" height="9.60" fill="url(#ng)"/>
<rect x="463.12" y="177.50" width="3.49" height="9.60" fill="url(#ng)"/>
<rect x="466.61" y="177.50" width="3.49" height="9.60" fill="url(#ng)"/>
<rect x="470.10" y="177.50" width="3.49" height="9.60" fill="url(#ng)"/>
<rect x="473.59" y="177.50" width="3.49" height="9.60" fill="url(#ng)"/>
<rect x="477.09" y="177.50" width="3.49" height="9.60" fill="url(#ng)"/>
<rect x="480.58" y="177.50" width="3.49" height="9.60" fill="url(#ng)"/>
<rect x="484.07" y="177.50" width="3.49" height="9.60" fill="url(#ng)"/>
<rect x="487.56" y="177.50" width="3.49" height="9.60" fill="url(#ng)"/>
<rect x="491.05" y="177.50" width="3.49" height="9.60" fill="url(#ng)"/>
<rect x="494.54" y="177.50" width="3.49" height="9.60" fill="url(#ng)"/>
<rect x="498.03" y="177.50" width="3.49" height="9.60" fill="url(#ng)"/>
<rect x="501.53" y="177.50" width="3.49" height="9.60" fill="url(#ng)"/>
<rect x="505.02" y="177.50" width="3.49" height="9.60" fill="url(#ng)"/>
<rect x="508.51" y="177.50" width="3.49" height="9.60" fill="url(#ng)"/>
<rect x="347.90" y="190.10" width="164.10" height="11.90" fill="#1a1a1a"/>
<rect x="347.90" y="191.00" width="3.49" height="10.10" fill="url(#cg)"/>
<rect x="351.39" y="191.00" width="3.49" height="10.10" fill="url(#cg)"/>
<rect x="354.88" y="191.00" width="3.49" height="10.10" fill="url(#cg)"/>
<rect x="358.37" y="191.00" width="3.49" height="10.10" fill="url(#cg)"/>
<rect x="361.87" y="191.00" width="3.49" height="10.10" fill="url(#cg)"/>
<rect x="365.36" y="191.00" width="3.49" height="10.10" fill="url(#cg)"/>
<rect x="368.85" y="191.00" width="3.49" height="10.10" fill="url(#cg)"/>
<rect x="372.34" y="191.00" width="3.49" height="10.10" fill="url(#cg)"/>
<rect x="375.83" y="191.00" width="3.49" height="10.10" fill="url(#cg)"/>
<rect x="379.32" y="191.00" width="3.49" height="10.10" fill="url(#cg)"/>
<rect x="382.81" y="191.00" width="3.49" height="10.10" fill="url(#cg)"/>
<rect x="386.31" y="191.00" width="3.49" height="10.10" fill="url(#cg)"/>
<rect x="389.80" y="191.00" width="3.49" height="10.10" fill="url(#cg)"/>
<rect x="393.29" y="191.00" width="3.49" height="10.10" fill="url(#cg)"/>
<rect x="396.78" y="191.00" width="3.49" height="10.10" fill="url(#cg)"/>
<rect x="400.27" y="191.00" width="3.49" height="10.10" fill="url(#cg)"/>
<rect x="403.76" y="191.00" width="3.49" height="10.10" fill="url(#cg)"/>
<rect x="407.26" y="191.00" width="3.49" height="10.10" fill="url(#cg)"/>
<rect x="410.75" y="191.00" width="3.49" height="10.10" fill="url(#cg)"/>
<rect x="414.24" y="191.00" width="3.49" height="10.10" fill="url(#cg)"/>
<rect x="417.73" y="191.00" width="3.49" height="10.10" fill="url(#cg)"/>
<rect x="421.22" y="191.00" width="3.49" height="10.10" fill="url(#cg)"/>
<rect x="424.71" y="191.00" width="3.49" height="10.10" fill="url(#cg)"/>
<rect x="428.20" y="191.00" width="3.49" height="10.10" fill="url(#cg)"/>
<rect x="431.70" y="191.00" width="3.49" height="10.10" fill="url(#cg)"/>
<rect x="435.19" y="191.00" width="3.49" height="10.10" fill="url(#cg)"/>
<rect x="438.68" y="191.00" width="3.49" height="10.10" fill="url(#cg)"/>
<rect x="442.17" y="191.00" width="3.49" height="10.10" fill="url(#cg)"/>
<rect x="445.66" y="191.00" width="3.49" height="10.10" fill="url(#cg)"/>
<rect x="449.15" y="191.00" width="3.49" height="10.10" fill="url(#cg)"/>
<rect x="452.64" y="191.00" width="3.49" height="10.10" fill="url(#cg)"/>
<rect x="456.14" y="191.00" width="3.49" height="10.10" fill="url(#cg)"/>
<rect x="459.63" y="191.00" width="3.49" height="10.10" fill="url(#cg)"/>
<rect x="463.12" y="191.00" width="3.49" height="10.10" fill="url(#cg)"/>
<rect x="466.61" y="191.00" width="3.49" height="10.10" fill="url(#cg)"/>
<rect x="470.10" y="191.00" width="3.49" height="10.10" fill="url(#cg)"/>
<rect x="473.59" y="191.00" width="3.49" height="10.10" fill="url(#cg)"/>
<rect x="477.09" y="191.00" width="3.49" height="10.10" fill="url(#cg)"/>
<rect x="480.58" y="191.00" width="3.49" height="10.10" fill="url(#cg)"/>
<rect x="484.07" y="191.00" width="3.49" height="10.10" fill="url(#cg)"/>
<rect x="487.56" y="191.00" width="3.49" height="10.10" fill="url(#cg)"/>
<rect x="491.05" y="191.00" width="3.49" height="10.10" fill="url(#cg)"/>
<rect x="494.54" y="191.00" width="3.49" height="10.10" fill="url(#cg)"/>
<rect x="498.03" y="191.00" width="3.49" height="10.10" fill="url(#cg)"/>
<rect x="501.53" y="191.00" width="3.49" height="10.10" fill="url(#cg)"/>
<rect x="505.02" y="191.00" width="3.49" height="10.10" fill="url(#cg)"/>
<rect x="508.51" y="191.00" width="3.49" height="10.10" fill="url(#cg)"/>
<rect x="145.80" y="177.50" width="0.90" height="9.60" fill="#8a867f"/>
<rect x="149.80" y="177.50" width="1.30" height="9.60" fill="#8a867f"/>
<rect x="153.70" y="177.50" width="1.30" height="9.60" fill="#8a867f"/>
<rect x="158.20" y="177.50" width="3.50" height="9.60" fill="url(#tg)"/>
<rect x="170.50" y="177.50" width="1.40" height="9.60" fill="#8a867f"/>
<rect x="182.90" y="177.50" width="1.40" height="9.60" fill="#8a867f"/>
<rect x="188.00" y="177.50" width="1.80" height="9.60" fill="#8a867f"/>
<rect x="191.50" y="177.50" width="1.40" height="9.60" fill="#8a867f"/>
<rect x="198.20" y="177.50" width="3.10" height="9.60" fill="url(#tg)"/>
<rect x="202.20" y="177.50" width="1.70" height="9.60" fill="#8a867f"/>
<rect x="205.30" y="177.50" width="1.70" height="9.60" fill="#8a867f"/>
<rect x="213.20" y="177.50" width="1.30" height="9.60" fill="#8a867f"/>
<rect x="223.00" y="177.50" width="2.20" height="9.60" fill="#8a867f"/>
<rect x="226.00" y="177.50" width="1.40" height="9.60" fill="#8a867f"/>
<rect x="228.70" y="177.50" width="1.30" height="9.60" fill="#8a867f"/>
<rect x="231.40" y="177.50" width="3.55" height="9.60" fill="url(#tg)"/>
<rect x="234.95" y="177.50" width="3.55" height="9.60" fill="url(#tg)"/>
<rect x="239.40" y="177.50" width="3.60" height="9.60" fill="url(#tg)"/>
<rect x="244.50" y="177.50" width="3.50" height="9.60" fill="url(#tg)"/>
<rect x="248.00" y="177.50" width="3.50" height="9.60" fill="url(#tg)"/>
<rect x="251.50" y="177.50" width="3.50" height="9.60" fill="url(#tg)"/>
<rect x="256.50" y="177.50" width="4.50" height="9.60" fill="url(#tg)"/>
<rect x="262.00" y="177.50" width="3.12" height="9.60" fill="url(#tg)"/>
<rect x="265.12" y="177.50" width="3.12" height="9.60" fill="url(#tg)"/>
<rect x="268.25" y="177.50" width="3.12" height="9.60" fill="url(#tg)"/>
<rect x="271.38" y="177.50" width="3.12" height="9.60" fill="url(#tg)"/>
<rect x="276.30" y="177.50" width="1.20" height="9.60" fill="#8a867f"/>
<rect x="286.70" y="177.50" width="1.50" height="9.60" fill="#8a867f"/>
<rect x="290.80" y="177.50" width="1.80" height="9.60" fill="#8a867f"/>
<rect x="294.10" y="177.50" width="2.20" height="9.60" fill="#8a867f"/>
<rect x="306.30" y="177.50" width="1.50" height="9.60" fill="#8a867f"/>
<rect x="312.00" y="177.50" width="3.80" height="9.60" fill="url(#tg)"/>
<rect x="316.90" y="177.50" width="2.60" height="9.60" fill="url(#tg)"/>
<rect x="323.90" y="177.50" width="4.25" height="9.60" fill="url(#tg)"/>
<rect x="328.15" y="177.50" width="4.25" height="9.60" fill="url(#tg)"/>
<rect x="333.90" y="177.50" width="1.40" height="9.60" fill="#8a867f"/>
<rect x="337.20" y="177.50" width="3.30" height="9.60" fill="url(#tg)"/>
<rect x="340.50" y="177.50" width="3.30" height="9.60" fill="url(#tg)"/>
<rect x="398.00" y="177.50" width="0.80" height="9.60" fill="#8a867f"/>
<rect x="406.20" y="177.50" width="0.80" height="9.60" fill="#8a867f"/>
<rect x="410.00" y="177.50" width="1.40" height="9.60" fill="#8a867f"/>
<rect x="457.00" y="177.50" width="1.70" height="9.60" fill="#8a867f"/>
<rect x="472.00" y="177.50" width="3.00" height="9.60" fill="url(#tg)"/>
<rect x="477.90" y="177.50" width="4.30" height="9.60" fill="url(#tg)"/>
<rect x="492.50" y="177.50" width="1.00" height="9.60" fill="#8a867f"/>
<rect x="496.00" y="177.50" width="1.40" height="9.60" fill="#8a867f"/>
<rect x="502.50" y="177.50" width="4.20" height="9.60" fill="url(#tg)"/>
<rect x="507.50" y="177.50" width="3.50" height="9.60" fill="url(#tg)"/>
<rect x="145.70" y="191.00" width="3.90" height="10.10" fill="#1a1a1a"/>
<rect x="150.80" y="191.00" width="1.80" height="10.10" fill="#1a1a1a"/>
<rect x="154.00" y="191.00" width="2.60" height="10.10" fill="#1a1a1a"/>
<rect x="158.00" y="191.00" width="7.00" height="10.10" fill="#1a1a1a"/>
<rect x="166.30" y="191.00" width="1.40" height="10.10" fill="#1a1a1a"/>
<rect x="169.00" y="191.00" width="1.30" height="10.10" fill="#1a1a1a"/>
<rect x="172.50" y="191.00" width="3.20" height="10.10" fill="#1a1a1a"/>
<rect x="177.80" y="191.00" width="2.30" height="10.10" fill="#1a1a1a"/>
<rect x="181.80" y="191.00" width="1.00" height="10.10" fill="#1a1a1a"/>
<rect x="185.80" y="191.00" width="1.40" height="10.10" fill="#1a1a1a"/>
<rect x="190.20" y="191.00" width="0.80" height="10.10" fill="#1a1a1a"/>
<rect x="193.50" y="191.00" width="1.80" height="10.10" fill="#1a1a1a"/>
<rect x="197.00" y="191.00" width="2.30" height="10.10" fill="#1a1a1a"/>
<rect x="201.00" y="191.00" width="0.30" height="10.10" fill="#1a1a1a"/>
<rect x="207.00" y="191.00" width="0.90" height="10.10" fill="#1a1a1a"/>
<rect x="211.00" y="191.00" width="0.90" height="10.10" fill="#1a1a1a"/>
<rect x="215.00" y="191.00" width="1.20" height="10.10" fill="#1a1a1a"/>
<rect x="218.10" y="191.00" width="0.90" height="10.10" fill="#1a1a1a"/>
<rect x="220.70" y="191.00" width="12.90" height="10.10" fill="#1a1a1a"/>
<rect x="235.90" y="191.00" width="0.90" height="10.10" fill="#1a1a1a"/>
<rect x="238.70" y="191.00" width="5.10" height="10.10" fill="#1a1a1a"/>
<rect x="245.60" y="191.00" width="10.70" height="10.10" fill="#1a1a1a"/>
<rect x="258.10" y="191.00" width="6.50" height="10.10" fill="#1a1a1a"/>
<rect x="266.40" y="191.00" width="0.90" height="10.10" fill="#1a1a1a"/>
<rect x="269.20" y="191.00" width="2.30" height="10.10" fill="#1a1a1a"/>
<rect x="273.30" y="191.00" width="1.00" height="10.10" fill="#1a1a1a"/>
<rect x="276.10" y="191.00" width="1.40" height="10.10" fill="#1a1a1a"/>
<rect x="296.00" y="191.00" width="1.00" height="10.10" fill="#1a1a1a"/>
<rect x="301.00" y="191.00" width="1.00" height="10.10" fill="#1a1a1a"/>
<rect x="311.00" y="191.00" width="1.50" height="10.10" fill="#1a1a1a"/>
<rect x="339.80" y="191.00" width="1.40" height="10.10" fill="#1a1a1a"/>
<rect x="374.00" y="191.00" width="1.30" height="10.10" fill="#1a1a1a"/>
<rect x="391.50" y="191.00" width="1.70" height="10.10" fill="#1a1a1a"/>
<rect x="420.90" y="191.00" width="8.70" height="10.10" fill="#1a1a1a"/>
<rect x="447.40" y="191.00" width="3.90" height="10.10" fill="#1a1a1a"/>
<rect x="462.10" y="191.00" width="1.80" height="10.10" fill="#1a1a1a"/>
<rect x="502.00" y="191.00" width="5.50" height="10.10" fill="#1a1a1a"/>
<rect x="278.80" y="34.80" width="1.00" height="1.20" fill="#555"/>
<rect x="278.80" y="78.50" width="1.00" height="1.20" fill="#555"/>
<rect x="278.80" y="134.30" width="1.00" height="1.20" fill="#555"/>
<rect x="278.80" y="145.20" width="1.00" height="1.20" fill="#555"/>
<rect x="278.80" y="167.70" width="1.00" height="1.20" fill="#555"/>
<rect x="278.50" y="195.20" width="1.00" height="1.20" fill="#555"/>
<rect x="344.80" y="50.70" width="1.00" height="1.20" fill="#555"/>
<rect x="344.80" y="95.10" width="1.00" height="1.20" fill="#555"/>
<rect x="344.80" y="111.80" width="1.00" height="1.20" fill="#555"/>
<rect x="344.80" y="123.20" width="1.00" height="1.20" fill="#555"/>
<rect x="344.90" y="180.40" width="1.00" height="1.20" fill="#555"/>
<line x1="48.60" y1="230.2" x2="48.60" y2="358.00" stroke="#111" stroke-width="1"/>
<line x1="48.10" y1="357.50" x2="238.3" y2="357.50" stroke="#111" stroke-width="1"/>
<line x1="45.80" y1="357.50" x2="48.60" y2="357.50" stroke="#111" stroke-width="0.9"/>
<line x1="47.40" y1="351.85" x2="48.60" y2="351.85" stroke="#111" stroke-width="0.9"/>
<line x1="47.40" y1="346.19" x2="48.60" y2="346.19" stroke="#111" stroke-width="0.9"/>
<line x1="47.40" y1="340.54" x2="48.60" y2="340.54" stroke="#111" stroke-width="0.9"/>
<line x1="47.40" y1="334.88" x2="48.60" y2="334.88" stroke="#111" stroke-width="0.9"/>
<line x1="47.40" y1="329.23" x2="48.60" y2="329.23" stroke="#111" stroke-width="0.9"/>
<line x1="47.40" y1="323.57" x2="48.60" y2="323.57" stroke="#111" stroke-width="0.9"/>
<line x1="47.40" y1="317.92" x2="48.60" y2="317.92" stroke="#111" stroke-width="0.9"/>
<line x1="47.40" y1="312.26" x2="48.60" y2="312.26" stroke="#111" stroke-width="0.9"/>
<line x1="47.40" y1="306.61" x2="48.60" y2="306.61" stroke="#111" stroke-width="0.9"/>
<line x1="45.80" y1="300.95" x2="48.60" y2="300.95" stroke="#111" stroke-width="0.9"/>
<line x1="47.40" y1="295.30" x2="48.60" y2="295.30" stroke="#111" stroke-width="0.9"/>
<line x1="47.40" y1="289.64" x2="48.60" y2="289.64" stroke="#111" stroke-width="0.9"/>
<line x1="47.40" y1="283.99" x2="48.60" y2="283.99" stroke="#111" stroke-width="0.9"/>
<line x1="47.40" y1="278.33" x2="48.60" y2="278.33" stroke="#111" stroke-width="0.9"/>
<line x1="47.40" y1="272.68" x2="48.60" y2="272.68" stroke="#111" stroke-width="0.9"/>
<line x1="47.40" y1="267.02" x2="48.60" y2="267.02" stroke="#111" stroke-width="0.9"/>
<line x1="47.40" y1="261.37" x2="48.60" y2="261.37" stroke="#111" stroke-width="0.9"/>
<line x1="47.40" y1="255.71" x2="48.60" y2="255.71" stroke="#111" stroke-width="0.9"/>
<line x1="47.40" y1="250.06" x2="48.60" y2="250.06" stroke="#111" stroke-width="0.9"/>
<line x1="45.80" y1="244.40" x2="48.60" y2="244.40" stroke="#111" stroke-width="0.9"/>
<line x1="47.40" y1="238.75" x2="48.60" y2="238.75" stroke="#111" stroke-width="0.9"/>
<line x1="47.40" y1="233.09" x2="48.60" y2="233.09" stroke="#111" stroke-width="0.9"/>
<line x1="48.60" y1="357.50" x2="48.60" y2="360.30" stroke="#111" stroke-width="0.9"/>
<line x1="54.82" y1="357.50" x2="54.82" y2="358.70" stroke="#111" stroke-width="0.9"/>
<line x1="61.05" y1="357.50" x2="61.05" y2="358.70" stroke="#111" stroke-width="0.9"/>
<line x1="67.27" y1="357.50" x2="67.27" y2="358.70" stroke="#111" stroke-width="0.9"/>
<line x1="73.49" y1="357.50" x2="73.49" y2="358.70" stroke="#111" stroke-width="0.9"/>
<line x1="79.72" y1="357.50" x2="79.72" y2="358.70" stroke="#111" stroke-width="0.9"/>
<line x1="85.94" y1="357.50" x2="85.94" y2="358.70" stroke="#111" stroke-width="0.9"/>
<line x1="92.16" y1="357.50" x2="92.16" y2="358.70" stroke="#111" stroke-width="0.9"/>
<line x1="98.39" y1="357.50" x2="98.39" y2="358.70" stroke="#111" stroke-width="0.9"/>
<line x1="104.61" y1="357.50" x2="104.61" y2="358.70" stroke="#111" stroke-width="0.9"/>
<line x1="110.84" y1="357.50" x2="110.84" y2="360.30" stroke="#111" stroke-width="0.9"/>
<line x1="117.06" y1="357.50" x2="117.06" y2="358.70" stroke="#111" stroke-width="0.9"/>
<line x1="123.28" y1="357.50" x2="123.28" y2="358.70" stroke="#111" stroke-width="0.9"/>
<line x1="129.51" y1="357.50" x2="129.51" y2="358.70" stroke="#111" stroke-width="0.9"/>
<line x1="135.73" y1="357.50" x2="135.73" y2="358.70" stroke="#111" stroke-width="0.9"/>
<line x1="141.95" y1="357.50" x2="141.95" y2="358.70" stroke="#111" stroke-width="0.9"/>
<line x1="148.18" y1="357.50" x2="148.18" y2="358.70" stroke="#111" stroke-width="0.9"/>
<line x1="154.40" y1="357.50" x2="154.40" y2="358.70" stroke="#111" stroke-width="0.9"/>
<line x1="160.62" y1="357.50" x2="160.62" y2="358.70" stroke="#111" stroke-width="0.9"/>
<line x1="166.85" y1="357.50" x2="166.85" y2="358.70" stroke="#111" stroke-width="0.9"/>
<line x1="173.07" y1="357.50" x2="173.07" y2="360.30" stroke="#111" stroke-width="0.9"/>
<line x1="179.29" y1="357.50" x2="179.29" y2="358.70" stroke="#111" stroke-width="0.9"/>
<line x1="185.52" y1="357.50" x2="185.52" y2="358.70" stroke="#111" stroke-width="0.9"/>
<line x1="191.74" y1="357.50" x2="191.74" y2="358.70" stroke="#111" stroke-width="0.9"/>
<line x1="197.96" y1="357.50" x2="197.96" y2="358.70" stroke="#111" stroke-width="0.9"/>
<line x1="204.19" y1="357.50" x2="204.19" y2="358.70" stroke="#111" stroke-width="0.9"/>
<line x1="210.41" y1="357.50" x2="210.41" y2="358.70" stroke="#111" stroke-width="0.9"/>
<line x1="216.63" y1="357.50" x2="216.63" y2="358.70" stroke="#111" stroke-width="0.9"/>
<line x1="222.86" y1="357.50" x2="222.86" y2="358.70" stroke="#111" stroke-width="0.9"/>
<line x1="229.08" y1="357.50" x2="229.08" y2="358.70" stroke="#111" stroke-width="0.9"/>
<line x1="235.30" y1="357.50" x2="235.30" y2="360.30" stroke="#111" stroke-width="0.9"/>
<text x="42.90" y="246.80" font-size="8.00" fill="#222" color="#222" textLength="12.60" lengthAdjust="spacingAndGlyphs" text-anchor="end">100</text>
<text x="43.00" y="303.80" font-size="8.00" fill="#222" color="#222" text-anchor="end">50</text>
<text x="42.50" y="359.80" font-size="8.00" fill="#222" color="#222" text-anchor="end">0</text>
<text x="48.60" y="370.20" font-size="8.00" fill="#222" color="#222" text-anchor="middle">0</text>
<text x="110.84" y="370.20" font-size="8.00" fill="#222" color="#222" text-anchor="middle">50</text>
<text x="173.07" y="370.20" font-size="8.00" fill="#222" color="#222" text-anchor="middle">100</text>
<text x="235.30" y="370.20" font-size="8.00" fill="#222" color="#222" text-anchor="middle">150</text>
<text x="128.70" y="383.30" font-size="9.00" fill="#222" color="#222" textLength="30.20" lengthAdjust="spacingAndGlyphs">Months</text>
<text x="-34.9" y="0" font-size="9" fill="#222" color="#222" transform="translate(26.2,295.6) rotate(-90)" textLength="69.8" lengthAdjust="spacingAndGlyphs">% overall survival</text>
<polyline points="48.60,244.40 51.60,245.00 54.20,250.70 56.70,256.50 59.30,259.00 63.10,265.40 65.70,271.80 67.60,276.20 68.30,282.00 68.30,296.20 72.90,296.20 72.90,310.60 77.40,310.60 77.40,319.20 85.60,319.20 85.60,326.80 94.20,326.80 94.20,334.20 136.00,334.20" fill="none" stroke="#3d5f99" stroke-width="1.20" stroke-linejoin="round"/>
<polyline points="48.60,244.40 52.30,245.60 55.50,250.10 59.30,257.10 63.70,267.30 66.80,276.00 70.00,280.30 72.70,283.00 75.40,287.20 79.10,288.80 83.40,291.00 87.60,296.30 91.90,299.50 95.10,302.20 99.40,306.20 107.70,306.20 107.70,313.30 119.40,313.30" fill="none" stroke="#66af48" stroke-width="1.25" stroke-linejoin="round"/>
<polyline points="48.60,246.30 49.30,252.00 51.60,254.60 54.80,256.50 56.70,259.00 59.90,263.50 62.50,268.50 64.40,270.50 67.00,275.00 70.00,278.70 75.90,278.70 78.00,280.30 79.60,283.50 83.40,285.60 86.60,286.70 90.80,289.40 94.00,291.50 98.30,294.20 100.50,297.40 102.60,301.10 104.70,303.40 117.00,303.40 117.00,306.20 204.50,306.20" fill="none" stroke="#b21f3a" stroke-width="1.25" stroke-linejoin="round"/>
<line x1="136.00" y1="332.00" x2="136.00" y2="334.20" stroke="#111" stroke-width="0.8"/>
<line x1="99.20" y1="332.00" x2="99.20" y2="334.20" stroke="#111" stroke-width="0.8"/>
<line x1="119.40" y1="310.70" x2="119.40" y2="313.30" stroke="#111" stroke-width="0.8"/>
<line x1="118.60" y1="304.00" x2="118.60" y2="306.20" stroke="#111" stroke-width="0.8"/>
<line x1="121.20" y1="304.00" x2="121.20" y2="306.20" stroke="#111" stroke-width="0.8"/>
<line x1="123.70" y1="304.00" x2="123.70" y2="306.20" stroke="#111" stroke-width="0.8"/>
<line x1="126.40" y1="304.00" x2="126.40" y2="306.20" stroke="#111" stroke-width="0.8"/>
<line x1="130.70" y1="304.00" x2="130.70" y2="306.20" stroke="#111" stroke-width="0.8"/>
<line x1="132.20" y1="304.00" x2="132.20" y2="306.20" stroke="#111" stroke-width="0.8"/>
<line x1="134.90" y1="304.00" x2="134.90" y2="306.20" stroke="#111" stroke-width="0.8"/>
<line x1="151.80" y1="304.00" x2="151.80" y2="306.20" stroke="#111" stroke-width="0.8"/>
<line x1="165.20" y1="304.00" x2="165.20" y2="306.20" stroke="#111" stroke-width="0.8"/>
<line x1="169.80" y1="304.00" x2="169.80" y2="306.20" stroke="#111" stroke-width="0.8"/>
<line x1="186.70" y1="304.00" x2="186.70" y2="306.20" stroke="#111" stroke-width="0.8"/>
<line x1="192.00" y1="304.00" x2="192.00" y2="306.20" stroke="#111" stroke-width="0.8"/>
<line x1="200.50" y1="304.00" x2="200.50" y2="306.20" stroke="#111" stroke-width="0.8"/>
<line x1="203.70" y1="304.00" x2="203.70" y2="306.20" stroke="#111" stroke-width="0.8"/>
<line x1="113.70" y1="301.20" x2="113.70" y2="303.40" stroke="#111" stroke-width="0.8"/>
<rect x="108.4" y="300.6" width="2.8" height="2.8" fill="#111"/>
<rect x="150.9" y="303.6" width="1.9" height="2.6" fill="#111"/>
<line x1="100.60" y1="304.00" x2="100.60" y2="306.20" stroke="#111" stroke-width="0.8"/>
<line x1="102.00" y1="304.00" x2="102.00" y2="306.20" stroke="#111" stroke-width="0.8"/>
<line x1="103.40" y1="304.00" x2="103.40" y2="306.20" stroke="#111" stroke-width="0.8"/>
<line x1="104.80" y1="304.00" x2="104.80" y2="306.20" stroke="#111" stroke-width="0.8"/>
<line x1="106.20" y1="304.00" x2="106.20" y2="306.20" stroke="#111" stroke-width="0.8"/>
<rect x="70.5" y="277.6" width="5.5" height="1.7" fill="#111"/>
<rect x="106.9" y="312.1" width="2.1" height="2.1" fill="#111"/>
<line x1="54.00" y1="245.49" x2="54.00" y2="248.09" stroke="#111" stroke-width="0.8"/>
<line x1="55.70" y1="247.88" x2="55.70" y2="250.48" stroke="#111" stroke-width="0.8"/>
<line x1="58.10" y1="252.17" x2="58.10" y2="254.77" stroke="#111" stroke-width="0.8"/>
<line x1="59.30" y1="254.38" x2="59.30" y2="256.98" stroke="#111" stroke-width="0.8"/>
<line x1="60.70" y1="257.39" x2="60.70" y2="259.99" stroke="#111" stroke-width="0.8"/>
<line x1="61.70" y1="259.70" x2="61.70" y2="262.30" stroke="#111" stroke-width="0.8"/>
<line x1="64.10" y1="265.27" x2="64.10" y2="267.87" stroke="#111" stroke-width="0.8"/>
<line x1="65.10" y1="268.03" x2="65.10" y2="270.63" stroke="#111" stroke-width="0.8"/>
<line x1="67.10" y1="273.64" x2="67.10" y2="276.24" stroke="#111" stroke-width="0.8"/>
<line x1="70.30" y1="278.23" x2="70.30" y2="280.83" stroke="#111" stroke-width="0.8"/>
<line x1="71.70" y1="279.70" x2="71.70" y2="282.30" stroke="#111" stroke-width="0.8"/>
<line x1="72.90" y1="280.90" x2="72.90" y2="283.50" stroke="#111" stroke-width="0.8"/>
<line x1="74.10" y1="282.60" x2="74.10" y2="285.20" stroke="#111" stroke-width="0.8"/>
<line x1="75.30" y1="284.47" x2="75.30" y2="287.07" stroke="#111" stroke-width="0.8"/>
<line x1="80.00" y1="287.20" x2="80.00" y2="289.80" stroke="#111" stroke-width="0.8"/>
<line x1="83.30" y1="288.89" x2="83.30" y2="291.49" stroke="#111" stroke-width="0.8"/>
<line x1="84.30" y1="289.70" x2="84.30" y2="292.30" stroke="#111" stroke-width="0.8"/>
<line x1="86.70" y1="292.73" x2="86.70" y2="295.33" stroke="#111" stroke-width="0.8"/>
<line x1="89.80" y1="295.77" x2="89.80" y2="298.37" stroke="#111" stroke-width="0.8"/>
<line x1="90.80" y1="296.51" x2="90.80" y2="299.11" stroke="#111" stroke-width="0.8"/>
<line x1="92.50" y1="297.78" x2="92.50" y2="300.38" stroke="#111" stroke-width="0.8"/>
<line x1="93.50" y1="298.63" x2="93.50" y2="301.23" stroke="#111" stroke-width="0.8"/>
<line x1="96.00" y1="300.77" x2="96.00" y2="303.37" stroke="#111" stroke-width="0.8"/>
<line x1="97.10" y1="301.80" x2="97.10" y2="304.40" stroke="#111" stroke-width="0.8"/>
<line x1="98.70" y1="303.28" x2="98.70" y2="305.88" stroke="#111" stroke-width="0.8"/>
<line x1="80.10" y1="281.71" x2="80.10" y2="284.11" stroke="#111" stroke-width="0.8"/>
<line x1="85.80" y1="284.42" x2="85.80" y2="286.82" stroke="#111" stroke-width="0.8"/>
<line x1="87.10" y1="284.93" x2="87.10" y2="287.33" stroke="#111" stroke-width="0.8"/>
<line x1="89.10" y1="286.21" x2="89.10" y2="288.61" stroke="#111" stroke-width="0.8"/>
<line x1="92.90" y1="288.68" x2="92.90" y2="291.08" stroke="#111" stroke-width="0.8"/>
<line x1="94.10" y1="289.47" x2="94.10" y2="291.87" stroke="#111" stroke-width="0.8"/>
<line x1="96.10" y1="290.73" x2="96.10" y2="293.13" stroke="#111" stroke-width="0.8"/>
<line x1="97.10" y1="291.36" x2="97.10" y2="293.76" stroke="#111" stroke-width="0.8"/>
<line x1="99.10" y1="293.03" x2="99.10" y2="295.43" stroke="#111" stroke-width="0.8"/>
<line x1="100.10" y1="294.48" x2="100.10" y2="296.88" stroke="#111" stroke-width="0.8"/>
<line x1="179.8" y1="237.50" x2="192.7" y2="237.50" stroke="#66af48" stroke-width="1.2"/>
<line x1="186.80" y1="235.00" x2="186.80" y2="237.20" stroke="#111" stroke-width="0.8"/>
<text x="196.00" y="240.10" font-size="7.40" fill="#1e1e1e" color="#1e1e1e" textLength="32.70" lengthAdjust="spacingAndGlyphs">NPM1- MN</text>
<line x1="179.8" y1="248.50" x2="192.7" y2="248.50" stroke="#3d5f99" stroke-width="1.2"/>
<line x1="186.80" y1="246.00" x2="186.80" y2="248.20" stroke="#111" stroke-width="0.8"/>
<text x="196.00" y="251.10" font-size="7.40" fill="#1e1e1e" color="#1e1e1e" textLength="35.50" lengthAdjust="spacingAndGlyphs">NPM1+ MN</text>
<line x1="179.8" y1="259.60" x2="192.7" y2="259.60" stroke="#b21f3a" stroke-width="1.2"/>
<line x1="186.80" y1="257.10" x2="186.80" y2="259.30" stroke="#111" stroke-width="0.8"/>
<text x="196.00" y="262.20" font-size="7.40" fill="#1e1e1e" color="#1e1e1e" textLength="38.00" lengthAdjust="spacingAndGlyphs">NPM1+ AML</text>
<rect x="0.00" y="0.00" width="520.00" height="1.00" fill="#484848"/>
<rect x="0.00" y="1.00" width="520.00" height="1.00" fill="#b8b8b8"/>
<rect x="0.00" y="392.00" width="520.00" height="1.00" fill="#484848"/>
<rect x="0.00" y="391.00" width="520.00" height="1.00" fill="#c8c8c8"/>
<rect x="0.00" y="0.00" width="1.00" height="393.00" fill="#0c0c0c"/>
<rect x="1.00" y="0.00" width="0.60" height="393.00" fill="#888"/>
<rect x="519.00" y="0.00" width="1.00" height="393.00" fill="#0c0c0c"/>
<rect x="518.40" y="0.00" width="0.60" height="393.00" fill="#888"/>
</svg></body></html>
